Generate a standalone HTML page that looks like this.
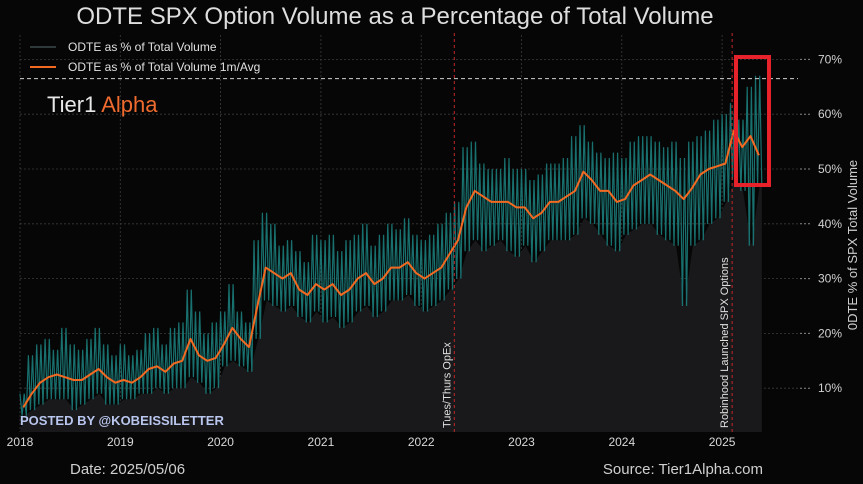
<!DOCTYPE html>
<html><head><meta charset="utf-8">
<style>
html,body{margin:0;padding:0;background:#050505;}
svg{display:block;font-family:"Liberation Sans",sans-serif;}
</style></head>
<body>
<svg id="chart" width="863" height="484" viewBox="0 0 863 484" xmlns="http://www.w3.org/2000/svg">
<rect x="0" y="0" width="863" height="484" fill="#060606"/>
<g id="grid"></g>
<g id="fill"></g>
<g id="series"></g>
<g id="annot"></g>
<g id="axes"></g>
<text x="395" y="24" text-anchor="middle" font-size="24" fill="#dedede">ODTE SPX Option Volume as a Percentage of Total Volume</text>
<g>
<line x1="30" y1="47" x2="56" y2="47" stroke="#2e3a3a" stroke-width="2"/>
<text x="68" y="51" font-size="12" fill="#e0e0e0">ODTE as % of Total Volume</text>
<line x1="30" y1="67" x2="56" y2="67" stroke="#f26a22" stroke-width="2"/>
<text x="68" y="71" font-size="12" fill="#e0e0e0">ODTE as % of Total Volume 1m/Avg</text>
</g>
<text x="47" y="112" font-size="22" fill="#e8e8e8">Tier1 <tspan fill="#ef6a2e">Alpha</tspan></text>
<text x="20" y="425" font-size="13" font-weight="bold" fill="#b9c6ee">POSTED BY @KOBEISSILETTER</text>
<text x="70" y="474" font-size="15" fill="#cfcfcf">Date: 2025/05/06</text>
<text x="763" y="474" font-size="15" fill="#cfcfcf" text-anchor="end">Source: Tier1Alpha.com</text>
<text transform="translate(857,245) rotate(-90)" text-anchor="middle" font-size="13" fill="#cfcfcf">0DTE % of SPX Total Volume</text>
<rect x="736" y="57" width="33" height="128" fill="none" stroke="#e8222a" stroke-width="4"/>
</svg>
<script>
const startYear = 2018;
const avgVals = [6.5,9,11,12,12.5,12,11.5,11.5,12.5,13.5,12,11,
11.5,11,12,13.5,14,13,14.5,15,19,16,15,15.5,
18,21,19,17.5,25,32,31,30,31,28,27,29,
28,29,27,28,30,31,29,30,32,32,33,31,
30,31,32,34.5,37,43,46,45,44,44,44,43,
43,41,42,44,44,45,46,49.5,48,46,46,44,
44.5,47,48,49,48,47,46,44.5,46.5,49,50,50.5,
51,57,54,56,52.5];
const hiVals = [9,16,18,19,17,21,18,17,19,21,18,16,
18,16,17,20,21,18,21,22,28,24,20,22,
24,29,24,22,37,42,40,36,37,35,33,38,
37,38,35,37,38,40,36,38,40,39,41,38,
37,38,40,42,44,54,55,51,50,50,52,50,
50,48,49,51,51,52,56,58,55,53,52,53,
52,55,56,56,55,54,55,52,55,56,57,59,
60,62,59,65,67];
const loVals = [5,6,7,8,8,8,6,7,8,9,7,7,
8,8,9,9,10,9,10,10,12,11,9,10,
14,15,14,13,19,26,25,24,25,23,22,24,
22,23,21,22,24,25,23,24,26,26,27,25,
24,25,26,28,30,35,37,35,36,37,35,34,
36,33,35,37,37,37,38,41,40,38,36,35,
38,39,40,40,38,37,36,25,36,37,40,41,
44,48,46,36,47];
const yTicks = [10,20,30,40,50,60,70];
const xTicks = ["2018","2019","2020","2021","2022","2023","2024","2025"];
const events = [{t:2022.33,label:"Tues/Thurs OpEx"},{t:2025.1,label:"Robinhood Launched SPX Options"}];
const refLine = 66.5;

const X0=20, PX_PER_YEAR=100.3, Y0=443, PX_PER_PCT=5.48, PLOT_BOTTOM=432, PLOT_RIGHT=800;
const xs = t => X0 + (t-2018)*PX_PER_YEAR;
const ys = v => Y0 - v*PX_PER_PCT;
const NS="http://www.w3.org/2000/svg";
function mk(tag, parent, attrs){const e=document.createElementNS(NS,tag);for(const k in attrs)e.setAttribute(k,attrs[k]);parent.appendChild(e);return e;}
const grid=document.getElementById('grid'), fill=document.getElementById('fill'), series=document.getElementById('series'), annot=document.getElementById('annot'), axes=document.getElementById('axes');

yTicks.forEach(v=>{
  const l=mk('line',grid,{x1:20,x2:PLOT_RIGHT,y1:ys(v),y2:ys(v),stroke:'#3a3a3a','stroke-width':0.8,'stroke-dasharray':'2,2'});
  
  
  const tk=mk('line',axes,{x1:PLOT_RIGHT,x2:PLOT_RIGHT+10,y1:ys(v),y2:ys(v),stroke:'#888','stroke-width':1,'stroke-dasharray':'2,2'});
  
  
  const t=mk('text',axes,{x:PLOT_RIGHT+18,y:ys(v)+4,'font-size':12,fill:'#d0d0d0'});
  t.textContent=v+'%';
  
  
});
xTicks.forEach(lab=>{
  const x=xs(+lab);
  const l=mk('line',grid,{x1:x,x2:x,y1:35,y2:PLOT_BOTTOM,stroke:'#3a3a3a','stroke-width':0.8,'stroke-dasharray':'2,2'});
  
  
  const t=mk('text',axes,{x:x,y:446,'font-size':12,fill:'#d8d8d8','text-anchor':'middle'});
  t.textContent=lab;
  
  
});

const tealPts=[], loPts=[];
const n=avgVals.length;
for(let i=0;i<n;i++){
  const base=startYear+i/12;
  for(let k=0;k<4;k++){
    const t=base+k/48;
    const v=(k%2===0)?hiVals[i]:loVals[i];
    tealPts.push([xs(t),ys(v)]);
  }
  loPts.push([xs(base+1/24),ys(loVals[i])]);
}
const endX=xs(startYear+(n-1)/12+3/48);
let fp='M'+xs(2018)+','+PLOT_BOTTOM+' '+loPts.map(p=>'L'+p[0].toFixed(1)+','+p[1].toFixed(1)).join(' ')+' L'+endX+','+loPts[loPts.length-1][1].toFixed(1)+' L'+endX+','+PLOT_BOTTOM+' Z';
const fa=mk('path',fill,{d:fp,fill:'#19191b'});



const tl=mk('polyline',series,{points:tealPts.map(p=>p[0].toFixed(1)+','+p[1].toFixed(1)).join(' '),fill:'none',stroke:'#1b7d7b','stroke-width':1.2,'stroke-opacity':0.9});



const avgPts=avgVals.map((v,i)=>xs(startYear+(i+0.4)/12).toFixed(1)+','+ys(v).toFixed(1));
const al=mk('polyline',series,{points:avgPts.join(' '),fill:'none',stroke:'#f26a22','stroke-width':2,'stroke-linejoin':'round'});



const rl=mk('line',annot,{x1:20,x2:PLOT_RIGHT-2,y1:ys(refLine),y2:ys(refLine),stroke:'#cfcfcf','stroke-width':1,'stroke-dasharray':'4,3'});


events.forEach(ev=>{
  const x=xs(ev.t);
  const l=mk('line',annot,{x1:x,x2:x,y1:33,y2:PLOT_BOTTOM,stroke:'#c0282a','stroke-width':1,'stroke-dasharray':'3,3'});
  
  
  const t=mk('text',annot,{transform:'translate('+(x-4)+',428) rotate(-90)','font-size':11,fill:'#e0e0e0'});
  t.textContent=ev.label;
  
  
});
</script>
</body></html>
